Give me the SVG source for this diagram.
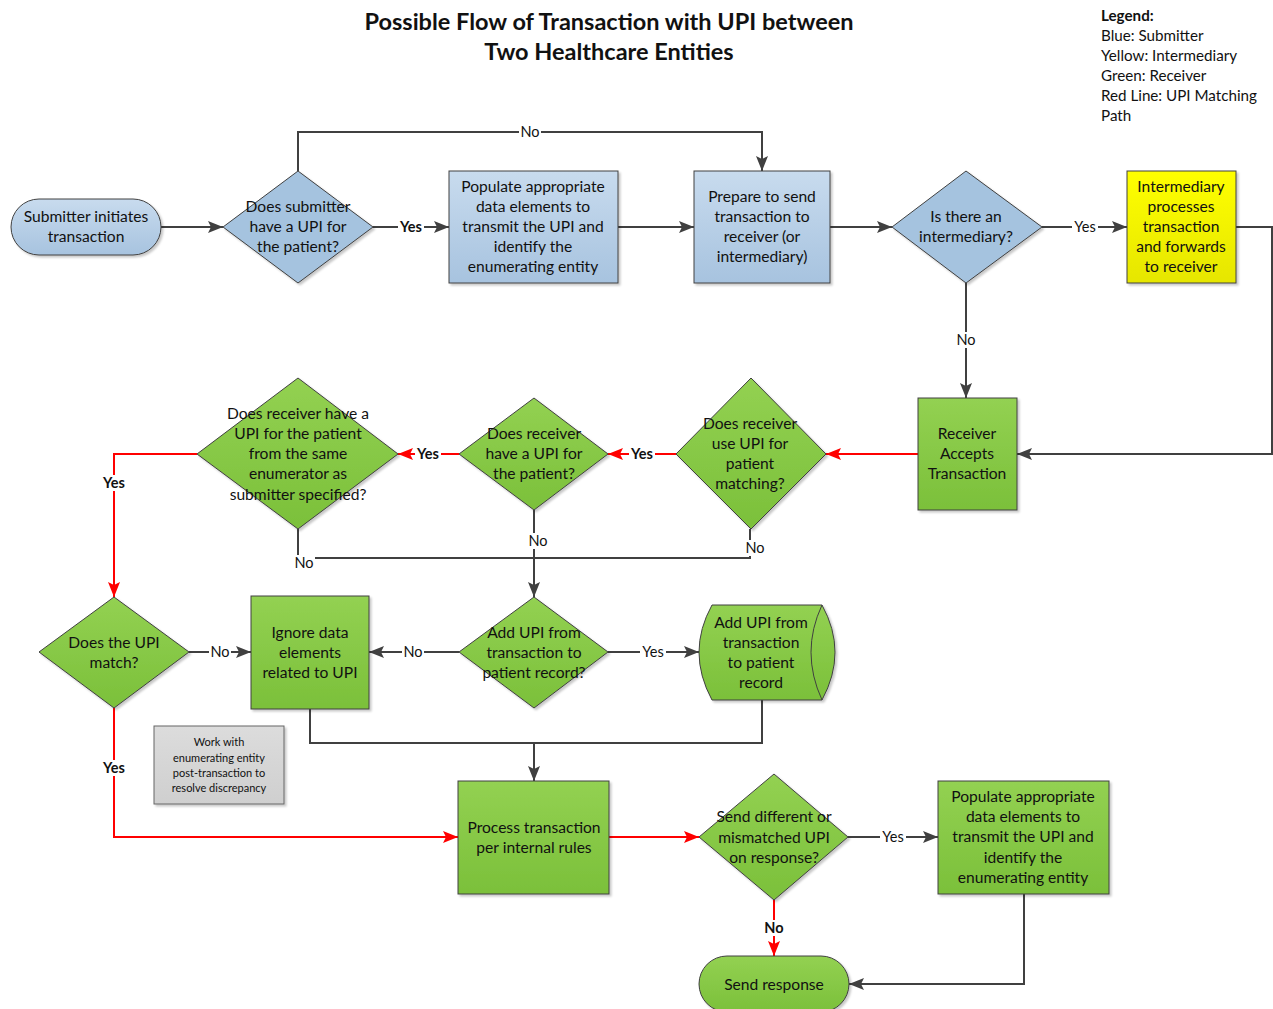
<svg xmlns="http://www.w3.org/2000/svg" width="1273" height="1009" viewBox="0 0 1273 1009">
<style>
text{font-family:Lato,"Liberation Sans",sans-serif;fill:#111;}
.t{font-size:15.6px;text-anchor:middle;}
.s{font-size:11px;text-anchor:middle;}
.title{font-size:23.5px;font-weight:bold;text-anchor:middle;}
.leg{font-size:15.2px;}
.lbl{font-size:14.5px;text-anchor:middle;}
.b{font-weight:bold;}
.node{stroke:#404040;stroke-width:1;filter:url(#sh);}
.c{fill:none;stroke:#404040;stroke-width:2;}
.r{fill:none;stroke:#ff0000;stroke-width:2;}
.bg{fill:#fff;}
</style>
<defs>
<filter id="sh" x="-10%" y="-10%" width="130%" height="130%"><feDropShadow dx="2" dy="2" stdDeviation="1.2" flood-color="#000" flood-opacity="0.22"/></filter>
<linearGradient id="gb" x1="0" y1="0" x2="0" y2="1"><stop offset="0" stop-color="#c8dbee"/><stop offset="1" stop-color="#a7c3df"/></linearGradient>
<linearGradient id="gg" x1="0" y1="0" x2="0" y2="1"><stop offset="0" stop-color="#93d152"/><stop offset="1" stop-color="#7bc03a"/></linearGradient>
<linearGradient id="gy" x1="0" y1="0" x2="0" y2="1"><stop offset="0" stop-color="#ffff00"/><stop offset="1" stop-color="#e6e600"/></linearGradient>
<linearGradient id="gn" x1="0" y1="0" x2="0" y2="1"><stop offset="0" stop-color="#dcdcdc"/><stop offset="1" stop-color="#cfcfcf"/></linearGradient>
<marker id="ad" markerUnits="userSpaceOnUse" markerWidth="16" markerHeight="12" refX="15" refY="6" orient="auto"><path d="M0,0 L15,6 L0,12 L3,6 z" fill="#404040"/></marker>
<marker id="ar" markerUnits="userSpaceOnUse" markerWidth="16" markerHeight="12" refX="15" refY="6" orient="auto"><path d="M0,0 L15,6 L0,12 L3,6 z" fill="#ff0000"/></marker>
</defs>
<rect width="1273" height="1009" fill="#fff"/>

<g id="title">
<text class="title" x="609" y="30">Possible Flow of Transaction with UPI between</text>
<text class="title" x="609" y="60">Two Healthcare Entities</text>
</g>
<g id="legend">
<text class="leg b" x="1101" y="21">Legend:</text>
<text class="leg" x="1101" y="41">Blue: Submitter</text>
<text class="leg" x="1101" y="61">Yellow: Intermediary</text>
<text class="leg" x="1101" y="81">Green: Receiver</text>
<text class="leg" x="1101" y="101">Red Line: UPI Matching</text>
<text class="leg" x="1101" y="121">Path</text>
</g>

<g id="connectors">
<path class="c" d="M161,227 H223" marker-end="url(#ad)"/>
<path class="c" d="M373,227 H449" marker-end="url(#ad)"/>
<path class="c" d="M298,171 V132 H762 V171" marker-end="url(#ad)"/>
<path class="c" d="M618,227 H694" marker-end="url(#ad)"/>
<path class="c" d="M830,227 H892" marker-end="url(#ad)"/>
<path class="c" d="M1042,227 H1127" marker-end="url(#ad)"/>
<path class="c" d="M1236,227 H1272 V454 H1017" marker-end="url(#ad)"/>
<path class="c" d="M966,283 V398" marker-end="url(#ad)"/>
<path class="r" d="M918,454 H826" marker-end="url(#ar)"/>
<path class="r" d="M676,454 H608" marker-end="url(#ar)"/>
<path class="r" d="M459,454 H398" marker-end="url(#ar)"/>
<path class="r" d="M197,454 H114 V597" marker-end="url(#ar)"/>
<path class="c" d="M298,529 V558 H750 V529"/>
<path class="c" d="M534,510 V597" marker-end="url(#ad)"/>
<path class="c" d="M189,652 H251" marker-end="url(#ad)"/>
<path class="c" d="M459,652 H369" marker-end="url(#ad)"/>
<path class="c" d="M608,652 H699" marker-end="url(#ad)"/>
<path class="c" d="M310,709 V743 H762 V700"/>
<path class="c" d="M534,743 V781" marker-end="url(#ad)"/>
<path class="r" d="M114,708 V837 H458" marker-end="url(#ar)"/>
<path class="r" d="M609,837 H699" marker-end="url(#ar)"/>
<path class="c" d="M848,837 H938" marker-end="url(#ad)"/>
<path class="r" d="M774,900 V956" marker-end="url(#ar)"/>
<path class="c" d="M1024,894 V984 H849" marker-end="url(#ad)"/>
<g id="labels">
<rect class="bg" x="398" y="219" width="26" height="16"/><text class="lbl b" x="411" y="232">Yes</text>
<rect class="bg" x="519" y="124" width="22" height="16"/><text class="lbl" x="530" y="137">No</text>
<rect class="bg" x="1072" y="219" width="26" height="16"/><text class="lbl" x="1085" y="232">Yes</text>
<rect class="bg" x="955" y="332" width="22" height="16"/><text class="lbl" x="966" y="345">No</text>
<rect class="bg" x="629" y="446" width="26" height="16"/><text class="lbl b" x="642" y="459">Yes</text>
<rect class="bg" x="415" y="446" width="26" height="16"/><text class="lbl b" x="428" y="459">Yes</text>
<rect class="bg" x="101" y="475" width="26" height="16"/><text class="lbl b" x="114" y="488">Yes</text>
<rect class="bg" x="293" y="555" width="22" height="16"/><text class="lbl" x="304" y="568">No</text>
<rect class="bg" x="527" y="533" width="22" height="16"/><text class="lbl" x="538" y="546">No</text>
<rect class="bg" x="744" y="540" width="22" height="16"/><text class="lbl" x="755" y="553">No</text>
<rect class="bg" x="209" y="644" width="22" height="16"/><text class="lbl" x="220" y="657">No</text>
<rect class="bg" x="402" y="644" width="22" height="16"/><text class="lbl" x="413" y="657">No</text>
<rect class="bg" x="640" y="644" width="26" height="16"/><text class="lbl" x="653" y="657">Yes</text>
<rect class="bg" x="101" y="760" width="26" height="16"/><text class="lbl b" x="114" y="773">Yes</text>
<rect class="bg" x="880" y="829" width="26" height="16"/><text class="lbl" x="893" y="842">Yes</text>
<rect class="bg" x="763" y="920" width="22" height="16"/><text class="lbl b" x="774" y="933">No</text>
</g>
</g>

<g id="n-submitter">
<rect class="node" x="11" y="199" width="150" height="56" rx="28" fill="url(#gb)"/>
<text class="t" x="86" y="222">Submitter initiates</text>
<text class="t" x="86" y="242">transaction</text>
</g>
<g id="n-sub-has-upi">
<polygon class="node" points="298,171 373,227 298,283 223,227" fill="#a5c3df"/>
<text class="t" x="298" y="212">Does submitter</text>
<text class="t" x="298" y="232">have a UPI for</text>
<text class="t" x="298" y="252">the patient?</text>
</g>
<g id="n-populate-sub">
<rect class="node" x="449" y="171" width="169" height="112" fill="url(#gb)"/>
<text class="t" x="533" y="192">Populate appropriate</text>
<text class="t" x="533" y="212">data elements to</text>
<text class="t" x="533" y="232">transmit the UPI and</text>
<text class="t" x="533" y="252">identify the</text>
<text class="t" x="533" y="272">enumerating entity</text>
</g>
<g id="n-prepare">
<rect class="node" x="694" y="171" width="136" height="112" fill="url(#gb)"/>
<text class="t" x="762" y="202">Prepare to send</text>
<text class="t" x="762" y="222">transaction to</text>
<text class="t" x="762" y="242">receiver (or</text>
<text class="t" x="762" y="262">intermediary)</text>
</g>
<g id="n-is-intermediary">
<polygon class="node" points="966,171 1042,227 966,283 892,227" fill="#a5c3df"/>
<text class="t" x="966" y="222">Is there an</text>
<text class="t" x="966" y="242">intermediary?</text>
</g>
<g id="n-intermediary">
<rect class="node" x="1127" y="171" width="109" height="112" fill="url(#gy)"/>
<text class="t" x="1181" y="192">Intermediary</text>
<text class="t" x="1181" y="212">processes</text>
<text class="t" x="1181" y="232">transaction</text>
<text class="t" x="1181" y="252">and forwards</text>
<text class="t" x="1181" y="272">to receiver</text>
</g>
<g id="n-receiver-accepts">
<rect class="node" x="918" y="398" width="99" height="112" fill="url(#gg)"/>
<text class="t" x="967" y="439">Receiver</text>
<text class="t" x="967" y="459">Accepts</text>
<text class="t" x="967" y="479">Transaction</text>
</g>
<g id="n-rec-use-upi">
<polygon class="node" points="751,378 826,454 751,529 676,454" fill="url(#gg)"/>
<text class="t" x="750" y="429">Does receiver</text>
<text class="t" x="750" y="449">use UPI for</text>
<text class="t" x="750" y="469">patient</text>
<text class="t" x="750" y="489">matching?</text>
</g>
<g id="n-rec-has-upi">
<polygon class="node" points="534,398 608,454 534,510 459,454" fill="url(#gg)"/>
<text class="t" x="534" y="439">Does receiver</text>
<text class="t" x="534" y="459">have a UPI for</text>
<text class="t" x="534" y="479">the patient?</text>
</g>
<g id="n-rec-same-enum">
<polygon class="node" points="298,378 398,454 298,529 197,454" fill="url(#gg)"/>
<text class="t" x="298" y="419">Does receiver have a</text>
<text class="t" x="298" y="439">UPI for the patient</text>
<text class="t" x="298" y="459">from the same</text>
<text class="t" x="298" y="479">enumerator as</text>
<text class="t" x="298" y="500">submitter specified?</text>
</g>
<g id="n-upi-match">
<polygon class="node" points="114,597 189,652 114,708 39,652" fill="url(#gg)"/>
<text class="t" x="114" y="648">Does the UPI</text>
<text class="t" x="114" y="668">match?</text>
</g>
<g id="n-ignore">
<rect class="node" x="251" y="596" width="118" height="113" fill="url(#gg)"/>
<text class="t" x="310" y="638">Ignore data</text>
<text class="t" x="310" y="658">elements</text>
<text class="t" x="310" y="678">related to UPI</text>
</g>
<g id="n-add-upi-q">
<polygon class="node" points="534,597 608,652 534,708 459,652" fill="url(#gg)"/>
<text class="t" x="534" y="638">Add UPI from</text>
<text class="t" x="534" y="658">transaction to</text>
<text class="t" x="534" y="678">patient record?</text>
</g>
<g id="n-add-upi">
<path class="node" d="M712,605 L822,605 Q848,652 822,700 L712,700 Q686,652 712,605 Z" fill="url(#gg)"/>
<path d="M822,605 Q800,652 822,700" fill="none" stroke="#404040" stroke-width="1"/>
<text class="t" x="761" y="628">Add UPI from</text>
<text class="t" x="761" y="648">transaction</text>
<text class="t" x="761" y="668">to patient</text>
<text class="t" x="761" y="688">record</text>
</g>
<g id="n-note">
<rect x="154" y="726" width="130" height="78" fill="url(#gn)" stroke="#666" stroke-width="1" filter="url(#sh)"/>
<text class="s" x="219" y="746">Work with</text>
<text class="s" x="219" y="762">enumerating entity</text>
<text class="s" x="219" y="777">post-transaction to</text>
<text class="s" x="219" y="792">resolve discrepancy</text>
</g>
<g id="n-process">
<rect class="node" x="458" y="781" width="151" height="113" fill="url(#gg)"/>
<text class="t" x="534" y="833">Process transaction</text>
<text class="t" x="534" y="853">per internal rules</text>
</g>
<g id="n-send-diff">
<polygon class="node" points="774,774 848,837 774,900 699,837" fill="url(#gg)"/>
<text class="t" x="774" y="822">Send different or</text>
<text class="t" x="774" y="843">mismatched UPI</text>
<text class="t" x="774" y="863">on response?</text>
</g>
<g id="n-populate-rec">
<rect class="node" x="938" y="781" width="171" height="113" fill="url(#gg)"/>
<text class="t" x="1023" y="802">Populate appropriate</text>
<text class="t" x="1023" y="822">data elements to</text>
<text class="t" x="1023" y="842">transmit the UPI and</text>
<text class="t" x="1023" y="863">identify the</text>
<text class="t" x="1023" y="883">enumerating entity</text>
</g>
<g id="n-send-response">
<rect class="node" x="699" y="956" width="150" height="56" rx="28" fill="url(#gg)"/>
<text class="t" x="774" y="990">Send response</text>
</g>
</svg>
